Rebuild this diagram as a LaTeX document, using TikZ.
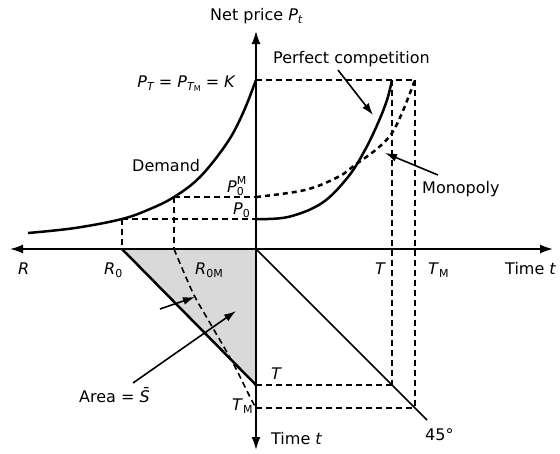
\documentclass[tikz,border=0pt]{standalone}
\usepackage{fontspec}
\setmainfont{DejaVu Sans}
\usetikzlibrary{arrows.meta}
\newcommand\dn[1]{\raisebox{-0.35ex}{\fontsize{11}{11}\selectfont #1}}
\newcommand\upx[1]{\raisebox{0.9ex}{\fontsize{11}{11}\selectfont #1}}
\newcommand\ddn[1]{\raisebox{-0.3ex}{\fontsize{8}{8}\selectfont #1}}
\begin{document}
\begin{tikzpicture}[x=1pt,y=-1pt,
  lbl/.style={inner sep=0pt, font=\fontsize{16}{19}\selectfont},
  axisline/.style={line width=1.8pt, {Latex[length=13pt,width=9pt]}-{Latex[length=13pt,width=9pt]}},
  guide/.style={line width=1.6pt, dash pattern=on 6pt off 4pt},
  curve/.style={line width=2.5pt},
  mono/.style={line width=2.5pt, dash pattern=on 5pt off 4pt},
  pointer/.style={line width=1.6pt, -{Latex[length=12pt,width=8pt]}},
]
\useasboundingbox (0,0) rectangle (560,453);

% key coordinates
\coordinate (O) at (256,249);
\coordinate (L) at (10,249);
\coordinate (Rt) at (553,249);
\coordinate (Up) at (256,31);
\coordinate (Dn) at (256,450);
\coordinate (K0) at (256,80);
\coordinate (KT) at (392,80);
\coordinate (KM) at (415,80);
\coordinate (P0) at (256,219);
\coordinate (P0M) at (256,197);
\coordinate (R0) at (122,249);
\coordinate (R0top) at (122,219);
\coordinate (R0M) at (174,249);
\coordinate (R0Mtop) at (174,197);
\coordinate (Tb) at (256,385);
\coordinate (TMb) at (256,408);
\coordinate (Tc) at (392,385);
\coordinate (TMc) at (415,408);
\coordinate (D45) at (427,420);

% shaded area
\fill[gray!30] (R0) -- (O) -- (Tb) -- cycle;

% guides
\draw[guide] (K0) -- (KM);
\draw[guide] (R0top) -- (P0);
\draw[guide] (R0Mtop) -- (P0M);
\draw[guide] (R0top) -- (R0);
\draw[guide] (R0Mtop) -- (R0M);
\draw[guide] (KT) -- (Tc);
\draw[guide] (KM) -- (TMc);
\draw[guide] (Tb) -- (Tc);
\draw[guide] (TMb) -- (TMc);
\draw[guide] plot[smooth] coordinates {(174,249) (193,293) (210,323) (233,363) (250,397) (256,408)};

% 45 degree line
\draw[line width=1.7pt] (O) -- (D45);

% extraction path under competition
\draw[curve] (R0) -- (Tb);

% axes
\draw[axisline] (L) -- (Rt);
\draw[axisline] (Dn) -- (Up);

% demand curve
\draw[curve] plot[smooth, tension=0.6] coordinates {(28,233) (75,228) (122,219) (150,209) (174,197) (200,177) (227,143) (243,113) (256,80)};
% perfect competition price path
\draw[curve] plot[smooth, tension=0.6] coordinates {(256,219) (288,217) (322,203) (348,177) (365,150) (378,123) (387,100) (392,80)};
% monopoly price path
\draw[mono] plot[smooth, tension=0.6] coordinates {(256,197) (305,190) (338,177) (355,165) (378,148) (392,133) (402,113) (410,93) (415,80)};

% labels
\node[lbl, anchor=base west] (ylab) at (210,20) {Net price \textit{P\dn{t}}};
\node[lbl, anchor=base east] (klab) at (236,87) {\textit{P\dn{T}} = \textit{P\dn{T\ddn{\upshape M}}} = \textit{K}};
\node[lbl, anchor=base west] (pclab) at (273,63) {Perfect competition};
\node[lbl, anchor=base west] (monlab) at (422,193) {Monopoly};
\node[lbl, anchor=base west] (demlab) at (132,171) {Demand};
\node[lbl, anchor=base west] (p0mlab) at (227,192) {\textit{P}\rlap{\upx{M}}\dn{0}};
\node[lbl, anchor=base west] (p0lab) at (233,214) {\textit{P}\dn{0}};
\node[lbl, anchor=base west] (rlab) at (18,274) {\textit{R}};
\node[lbl, anchor=base west] (r0lab) at (104,274) {\textit{R}\dn{0}};
\node[lbl, anchor=base west] (r0mlab) at (195,274) {\textit{R}\dn{0M}};
\node[lbl, anchor=base west] (tlab) at (375,274) {\textit{T}};
\node[lbl, anchor=base west] (tmlab) at (428,274) {\textit{T}\dn{M}};
\node[lbl, anchor=base west] (xlab) at (505,274) {Time \textit{t}};
\node[lbl, anchor=base west] (tblab) at (271,379) {\textit{T}};
\node[lbl, anchor=base west] (tmblab) at (232,410) {\textit{T}\dn{M}};
\node[lbl, anchor=base west] (yblab) at (271,444) {Time \textit{t}};
\node[lbl, anchor=base west] (deglab) at (425,440) {45°};
\node[lbl, anchor=base west] (arealab) at (79,402) {Area = \textit{S̄}};

% pointers
\coordinate (pcs) at (338,70);
\coordinate (pce) at (373,115);
\coordinate (mos) at (438,175);
\coordinate (moe) at (385,153);
\coordinate (als) at (133,383);
\coordinate (ale) at (236,311);
\coordinate (ass) at (160,309);
\coordinate (ase) at (195,297);
\draw[pointer] (pcs) -- (pce);
\draw[pointer] (mos) -- (moe);
\draw[pointer] (als) -- (ale);
\draw[pointer] (ass) -- (ase);
\end{tikzpicture}
\end{document}
